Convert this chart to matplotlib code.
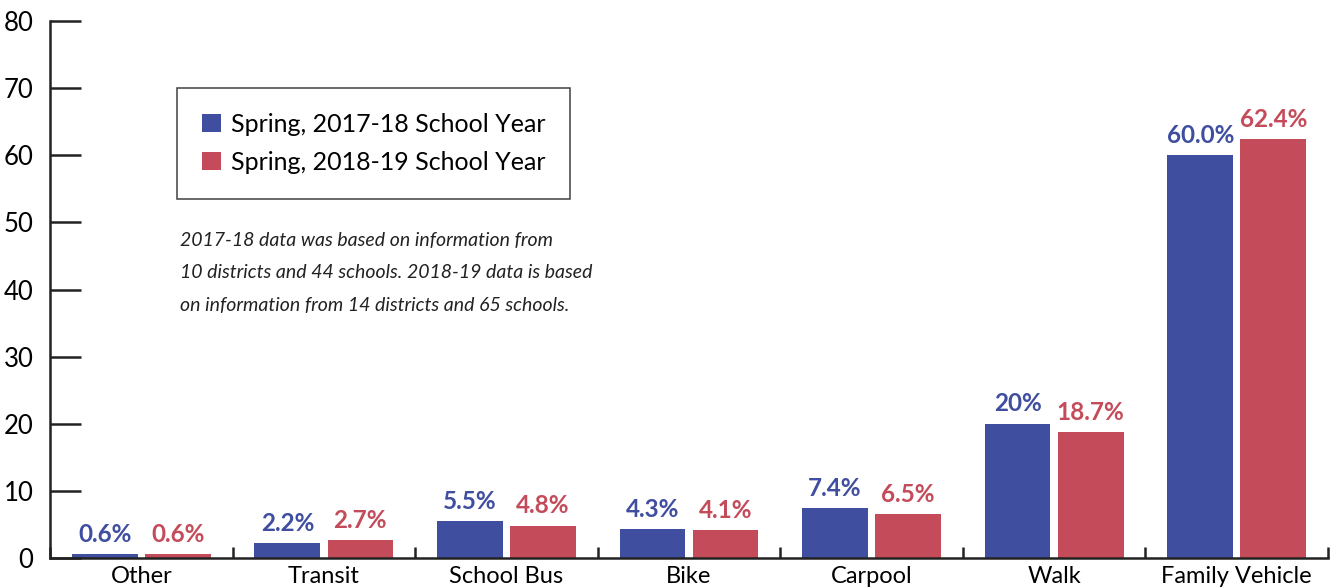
"""Student travel mode share, spring 2017-18 vs spring 2018-19."""

import numpy as np
import matplotlib
matplotlib.use("Agg")
import matplotlib.pyplot as plt
from matplotlib.ticker import FixedLocator

modes = ["Other", "Transit", "School Bus", "Bike", "Carpool", "Walk", "Family Vehicle"]
share_1718 = [0.6, 2.2, 5.5, 4.3, 7.4, 20.0, 60.0]
share_1819 = [0.6, 2.7, 4.8, 4.1, 6.5, 18.7, 62.4]
labels_1718 = ["0.6%", "2.2%", "5.5%", "4.3%", "7.4%", "20%", "60.0%"]
labels_1819 = ["0.6%", "2.7%", "4.8%", "4.1%", "6.5%", "18.7%", "62.4%"]
series_names = ["Spring, 2017-18 School Year", "Spring, 2018-19 School Year"]
note = ("2017-18 data was based on information from\n"
        "10 districts and 44 schools. 2018-19 data is based\n"
        "on information from 14 districts and 65 schools.")

BLUE = "#404ea0"
RED = "#c44b5a"

plt.rcParams["font.family"] = ["Lato", "DejaVu Sans"]

fig = plt.figure(figsize=(13.36, 5.88), dpi=100)
ax = fig.add_axes([50 / 1336, 1 - 558 / 588, 1278 / 1336, 537 / 588])

x = np.arange(len(modes))
w = 0.36
b1 = ax.bar(x - 0.2, share_1718, w, color=BLUE, label=series_names[0])
b2 = ax.bar(x + 0.2, share_1819, w, color=RED, label=series_names[1])

for bars, labs, col in [(b1, labels_1718, BLUE), (b2, labels_1819, RED)]:
    for bar, lab in zip(bars, labs):
        ax.annotate(lab, (bar.get_x() + bar.get_width() / 2, bar.get_height()),
                    xytext=(0, 6), textcoords="offset points", ha="center", va="bottom",
                    fontsize=17.5, fontweight="bold", color=col)

ax.set_xlim(-0.5, len(modes) - 0.5)
ax.set_ylim(0, 80)
ax.set_yticks(range(0, 81, 10))
ax.set_xticks(x, modes)
ax.xaxis.set_minor_locator(FixedLocator(np.arange(-0.5, len(modes), 1.0)))

for side in ["top", "right"]:
    ax.spines[side].set_visible(False)
for side in ["left", "bottom"]:
    ax.spines[side].set_linewidth(1.8)
    ax.spines[side].set_color("#222222")

ax.tick_params(axis="y", direction="in", length=22, width=1.8, color="#222222",
               labelsize=18.5, pad=12)
ax.tick_params(axis="x", which="major", length=0, labelsize=17, pad=6)
ax.tick_params(axis="x", which="minor", direction="in", length=8, width=1.8, color="#222222")

leg = ax.legend(loc="upper left", bbox_to_anchor=(127 / 1278, 470 / 537), fontsize=18,
                frameon=True, fancybox=False, edgecolor="#111111", handlelength=0.75,
                handleheight=0.75, handletextpad=0.4, borderpad=1.0, borderaxespad=0,
                labelspacing=0.6)
leg.get_frame().set_linewidth(1.1)

ax.text(130 / 1278, 326 / 537, note, transform=ax.transAxes, fontsize=14,
        style="italic", va="top", ha="left", linespacing=2.1, color="#222222")

fig.savefig("out.png", dpi=100)
